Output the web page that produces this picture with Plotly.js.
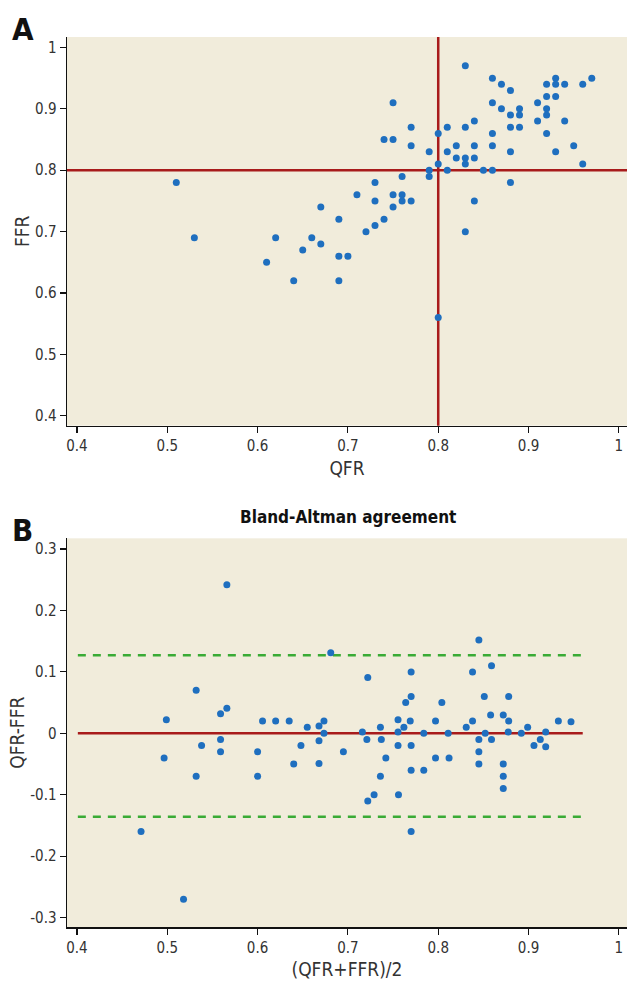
<!DOCTYPE html>
<html>
<head>
<meta charset="utf-8">
<script src="https://cdn.plot.ly/plotly-3.0.1.min.js"></script>
<style>html,body{margin:0;padding:0;background:#fff;}#chart{width:627px;height:982px;}</style>
</head>
<body>
<div id="chart"></div>
<script>
// Panel A: QFR vs FFR
const qfrA = [0.51,0.53,0.61,0.62,0.64,0.65,0.66,0.67,0.67,0.69,0.69,0.69,0.70,0.71,0.72,0.73,0.73,0.73,0.74,0.74,0.75,0.75,0.75,0.75,0.76,0.76,0.76,0.77,0.77,0.77,0.79,0.79,0.79,0.80,0.80,0.80,
  0.81,0.81,0.81,0.82,0.82,0.83,0.83,0.83,0.83,0.83,0.84,0.84,0.84,0.84,0.85,0.86,0.86,0.86,0.86,0.86,0.87,0.87,0.88,0.88,0.88,0.88,0.88,0.89,0.89,0.89,0.91,0.91,0.92,0.92,0.92,0.92,0.92,0.93,0.93,0.93,0.93,0.94,0.94,0.95,0.96,0.96,0.97];
const ffrA = [0.78,0.69,0.65,0.69,0.62,0.67,0.69,0.74,0.68,0.72,0.66,0.62,0.66,0.76,0.70,0.71,0.78,0.75,0.72,0.85,0.91,0.85,0.76,0.74,0.79,0.76,0.75,0.87,0.84,0.75,0.83,0.80,0.79,0.86,0.81,0.56,
  0.87,0.83,0.80,0.84,0.82,0.97,0.87,0.82,0.81,0.70,0.88,0.84,0.82,0.75,0.80,0.95,0.91,0.86,0.84,0.80,0.94,0.90,0.93,0.89,0.87,0.83,0.78,0.90,0.89,0.87,0.91,0.88,0.94,0.92,0.90,0.89,0.86,0.95,0.94,0.92,0.83,0.94,0.88,0.84,0.94,0.81,0.95];
const cutoff = 0.8;

// Panel B: Bland-Altman
const meanB = [0.471,0.4965,0.499,0.518,0.532,0.532,0.538,0.559,0.559,0.559,0.566,0.566,0.600,0.600,0.6055,0.620,0.635,0.640,0.648,0.655,0.668,0.668,0.668,0.6735,0.6735,0.681,0.695,0.716,0.721,0.722,0.722,0.729,0.736,0.736,0.737,0.742,0.7555,0.7555,0.7555,0.756,0.762,0.764,0.769,0.770,0.770,0.770,0.770,0.770,0.784,0.784,0.797,0.797,0.804,0.811,0.812,0.831,0.838,0.838,0.845,0.845,0.845,0.845,0.851,0.852,0.858,0.859,0.859,0.872,0.872,0.872,0.872,0.878,0.878,0.8775,0.892,0.899,0.906,0.913,0.919,0.919,0.933,0.947];
const diffB = [-0.16,-0.04,0.022,-0.27,0.07,-0.07,-0.02,0.032,-0.01,-0.03,0.242,0.041,-0.03,-0.07,0.02,0.02,0.02,-0.05,-0.02,0.01,0.012,-0.012,-0.049,0.02,0.0,0.131,-0.03,0.002,-0.01,0.091,-0.11,-0.10,0.01,-0.07,-0.01,-0.04,0.022,0.002,-0.02,-0.10,0.01,0.05,0.02,0.10,0.06,-0.02,-0.06,-0.16,0.0,-0.06,0.02,-0.04,0.05,0.0,-0.04,0.01,0.10,0.02,0.152,-0.01,-0.03,-0.05,0.06,0.0,0.03,0.11,-0.01,0.03,-0.05,-0.07,-0.09,0.06,0.02,0.002,0.0,0.01,-0.02,-0.01,0.002,-0.022,0.02,0.019];
const meanDiff = 0;
const loaUpper = 0.127;
const loaLower = -0.136;
const lineRange = [0.401, 0.960];

const tickVals = [0.4,0.5,0.6,0.7,0.8,0.9,1];
const tickText = ['0.4','0.5','0.6','0.7','0.8','0.9','1'];
const yTicksA = [0.4,0.5,0.6,0.7,0.8,0.9,1];
const yTicksB = [-0.3,-0.2,-0.1,0,0.1,0.2,0.3];
const yTextB = ['-0.3','-0.2','-0.1','0','0.1','0.2','0.3'];

const NARROW = '"Liberation Sans Narrow", "DejaVu Sans Condensed", "Arial Narrow", sans-serif';
const BLUE = '#1f6fbf';
const RED = '#a81b1b';
const GREEN = '#3aab35';

const mk = {color: BLUE, size: 7};

const traces = [
  {x: qfrA, y: ffrA, type: 'scatter', mode: 'markers', marker: mk, xaxis: 'x', yaxis: 'y', hoverinfo: 'skip'},
  {x: lineRange, y: [loaUpper, loaUpper], type: 'scatter', mode: 'lines', line: {color: GREEN, width: 2.5, dash: '8px,7px'}, xaxis: 'x2', yaxis: 'y2'},
  {x: lineRange, y: [loaLower, loaLower], type: 'scatter', mode: 'lines', line: {color: GREEN, width: 2.5, dash: '8px,7px'}, xaxis: 'x2', yaxis: 'y2'},
  {x: lineRange, y: [meanDiff, meanDiff], type: 'scatter', mode: 'lines', line: {color: RED, width: 2.5}, xaxis: 'x2', yaxis: 'y2'},
  {x: meanB, y: diffB, type: 'scatter', mode: 'markers', marker: mk, xaxis: 'x2', yaxis: 'y2'}
];

const axBase = {
  showgrid: false, zeroline: false, showline: true, linecolor: '#111', linewidth: 1.5,
  ticks: 'outside', ticklen: 6, tickwidth: 1.2, tickcolor: '#111',
  tickfont: {family: NARROW, size: 15, color: '#333'}
};
const titleFont = {family: NARROW, size: 19, color: '#333'};

const layout = {
  width: 627, height: 982,
  margin: {l: 67, r: 0, t: 37, b: 55},
  paper_bgcolor: '#ffffff',
  plot_bgcolor: '#f1ecdb',
  showlegend: false,
  xaxis: Object.assign({}, axBase, {domain: [0,1], anchor: 'y', range: [0.389, 1.009], tickvals: tickVals, ticktext: tickText,
    title: {text: 'QFR', font: titleFont, standoff: 7}}),
  yaxis: Object.assign({}, axBase, {domain: [0.5633, 1], anchor: 'x', range: [0.384, 1.017], tickvals: yTicksA,
    title: {text: 'FFR', font: titleFont, standoff: 0}}),
  xaxis2: Object.assign({}, axBase, {domain: [0,1], anchor: 'y2', range: [0.389, 1.009], tickvals: tickVals, ticktext: tickText,
    title: {text: '(QFR+FFR)/2', font: titleFont, standoff: 7}}),
  yaxis2: Object.assign({}, axBase, {domain: [0, 0.4367], anchor: 'x2', range: [-0.3153, 0.3174], tickvals: yTicksB, ticktext: yTextB,
    title: {text: 'QFR-FFR', font: titleFont, standoff: 0}}),
  shapes: [
    {type: 'line', xref: 'x', yref: 'y domain', x0: cutoff, x1: cutoff, y0: 0, y1: 1, line: {color: RED, width: 2.5}, layer: 'below'},
    {type: 'line', xref: 'x domain', yref: 'y', x0: 0, x1: 1, y0: cutoff, y1: cutoff, line: {color: RED, width: 2.5}, layer: 'below'}
  ],
  annotations: [
    {text: '<b>A</b>', xref: 'paper', yref: 'paper', x: -0.102, y: 1.032, xanchor: 'left', yanchor: 'top', showarrow: false,
      font: {family: NARROW, size: 31, color: '#111'}},
    {text: '<b>B</b>', xref: 'paper', yref: 'paper', x: -0.102, y: 0.468, xanchor: 'left', yanchor: 'top', showarrow: false,
      font: {family: NARROW, size: 31, color: '#111'}},
    {text: '<b>Bland-Altman agreement</b>', xref: 'paper', yref: 'paper', x: 0.502, y: 0.4607, xanchor: 'center', yanchor: 'middle', showarrow: false,
      font: {family: NARROW, size: 17, color: '#111'}}
  ]
};

Plotly.newPlot('chart', traces, layout, {displayModeBar: false, staticPlot: true});
</script>
</body>
</html>
